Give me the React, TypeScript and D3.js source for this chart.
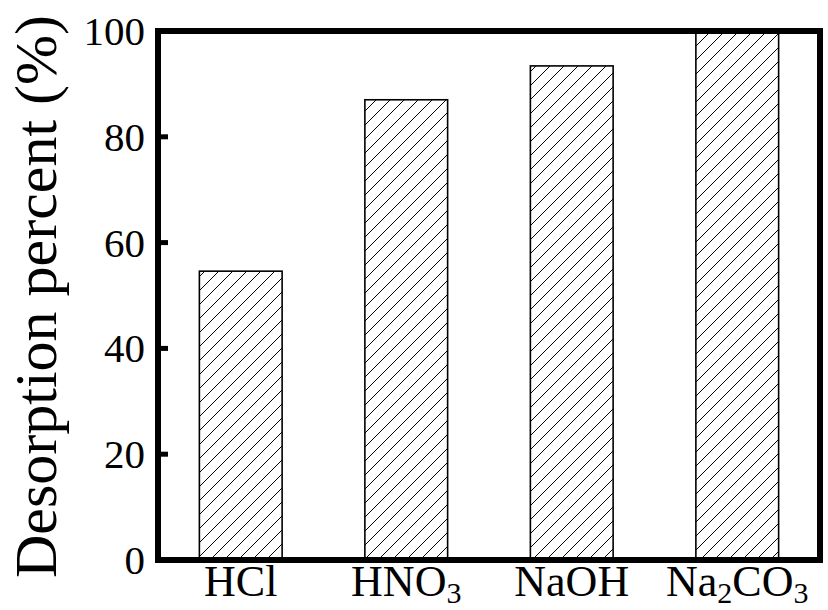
import { useEffect, useRef } from 'react';
import { select, scaleBand, scaleLinear } from 'd3';

// reagents on the x axis, sub = chemical subscripts
const categories = ['HCl', 'HNO3', 'NaOH', 'Na2CO3'];
const labelParts: [string, boolean][][] = [
  [['HCl', false]],
  [['HNO', false], ['3', true]],
  [['NaOH', false]],
  [['Na', false], ['2', true], ['CO', false], ['3', true]],
];
const desorption = [54.6, 87.0, 93.4, 100];
const yTicks = [0, 20, 40, 60, 80, 100];

const width = 828;
const height = 610;
const margin = { top: 31, right: 8, bottom: 50, left: 158 };

const App = () => {
  const ref = useRef<SVGSVGElement>(null);

  useEffect(() => {
    const svg = select(ref.current);
    svg.selectAll('*').remove();

    const x = scaleBand()
      .domain(categories)
      .range([margin.left, width - margin.right])
      .paddingInner(0.5)
      .paddingOuter(0.25);

    const y = scaleLinear()
      .domain([0, 100])
      .range([height - margin.bottom, margin.top]);

    const defs = svg.append('defs');
    const pat = defs
      .append('pattern')
      .attr('id', 'hatch')
      .attr('patternUnits', 'userSpaceOnUse')
      .attr('width', 14)
      .attr('height', 14);
    pat.append('rect').attr('width', 14).attr('height', 14).attr('fill', '#fff');
    pat
      .append('path')
      .attr('d', 'M0,14 L14,0 M-7,7 L7,-7 M7,21 L21,7')
      .attr('stroke', '#000')
      .attr('stroke-width', 1);

    // bars
    svg
      .append('g')
      .selectAll('rect')
      .data(desorption)
      .join('rect')
      .attr('x', (_, i) => x(categories[i]) as number)
      .attr('y', (d) => y(d))
      .attr('width', x.bandwidth())
      .attr('height', (d) => y(0) - y(d))
      .attr('fill', 'url(#hatch)')
      .attr('stroke', '#000')
      .attr('stroke-width', 1.6);

    // ticks (inside)
    const x0 = margin.left;
    svg
      .append('g')
      .selectAll('line')
      .data(yTicks)
      .join('line')
      .attr('x1', x0)
      .attr('x2', x0 + 10)
      .attr('y1', (d) => y(d))
      .attr('y2', (d) => y(d))
      .attr('stroke', '#000')
      .attr('stroke-width', 5);

    // frame
    svg
      .append('rect')
      .attr('x', margin.left)
      .attr('y', margin.top)
      .attr('width', width - margin.left - margin.right)
      .attr('height', y(0) - margin.top)
      .attr('fill', 'none')
      .attr('stroke', '#000')
      .attr('stroke-width', 6);

    const font = '"Liberation Serif", "Times New Roman", serif';

    // y tick labels
    svg
      .append('g')
      .selectAll('text')
      .data(yTicks)
      .join('text')
      .attr('x', 145)
      .attr('y', (d) => y(d) + 14)
      .attr('text-anchor', 'end')
      .attr('font-family', font)
      .attr('font-size', 41)
      .attr('fill', '#000')
      .text((d) => d);

    // x labels with subscripts
    const xl = svg
      .append('g')
      .selectAll('text')
      .data(categories)
      .join('text')
      .attr('x', (d) => (x(d) as number) + x.bandwidth() / 2)
      .attr('y', 596)
      .attr('text-anchor', 'middle')
      .attr('font-family', font)
      .attr('font-size', 44)
      .attr('fill', '#000');
    xl.each(function (_, i) {
      const t = select(this);
      let down = false;
      labelParts[i].forEach(([s, sub]) => {
        const ts = t.append('tspan').text(s);
        if (sub && !down) {
          ts.attr('font-size', 30).attr('dy', 7);
          down = true;
        } else if (!sub && down) {
          ts.attr('dy', -7);
          down = false;
        } else if (sub) {
          ts.attr('font-size', 30);
        }
      });
    });

    // y title
    svg
      .append('text')
      .attr('transform', `translate(56, ${(18 + 575) / 2}) rotate(-90)`)
      .attr('text-anchor', 'middle')
      .attr('font-family', font)
      .attr('font-size', 60)
      .attr('fill', '#000')
      .text('Desorption percent (%)');
  }, []);

  return (
    <svg
      ref={ref}
      width={width}
      height={height}
      style={{ position: 'absolute', left: 0, top: 0, display: 'block', background: '#fff' }}
    />
  );
};

export default App;
